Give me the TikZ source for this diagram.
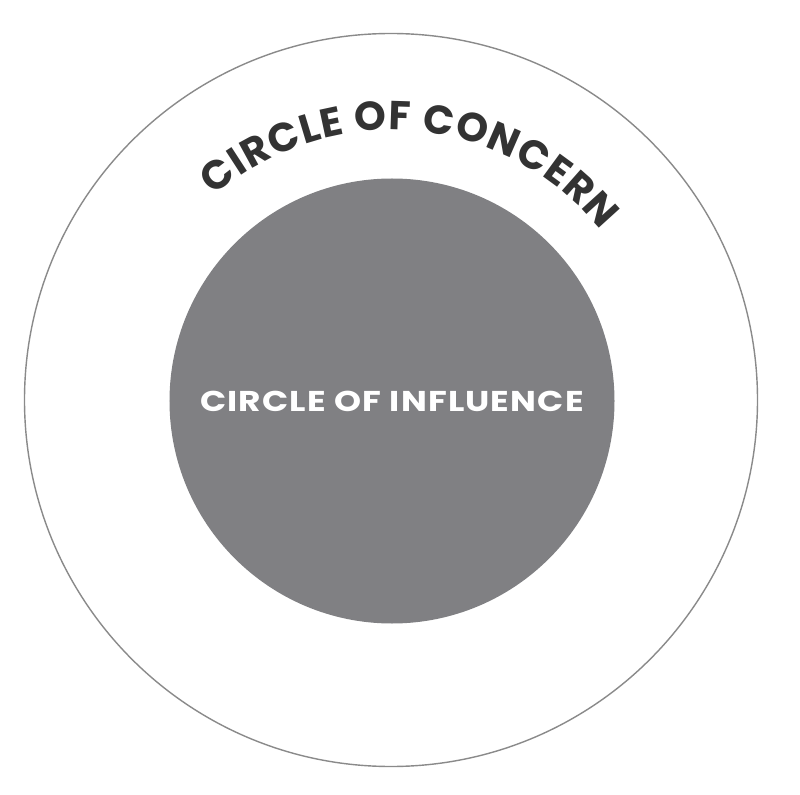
\documentclass[tikz,border=0pt]{standalone}
\usepackage{fontspec}
\newfontfamily\influencefont{Poppins}[FakeStretch=1.2, LetterSpace=4]
\newfontfamily\concernfont{Poppins}
\usetikzlibrary{decorations.text}
\definecolor{ringgray}{HTML}{8A8A8A}
\definecolor{discgray}{HTML}{808083}
\definecolor{labelgray}{HTML}{333333}
\begin{document}
\begin{tikzpicture}
	\useasboundingbox (-7.82,-7.88) rectangle (8.18,8);
	\begin{scope}[every node/.style={circle,inner sep=0pt}]
		\node (concern) [draw=ringgray, line width=0.8pt, minimum size=14.66cm] at (0,0) {};
		\node (influence) [fill=discgray, text=white, minimum size=8.9cm,
			font=\influencefont\bfseries\fontsize{16.3}{18}\selectfont] at (0.02,-0.02) {CIRCLE OF INFLUENCE};
	\end{scope}
	
	\path [decorate, decoration={text along path, text align=fit to path,
			text={|\concernfont\bfseries\fontsize{23}{26}\selectfont\color{labelgray}|CIRCLE OF CONCERN}}]
		(concern.center) ++(131:5.4) arc [start angle=131, end angle=39, radius=5.4];
\end{tikzpicture}
\end{document}
